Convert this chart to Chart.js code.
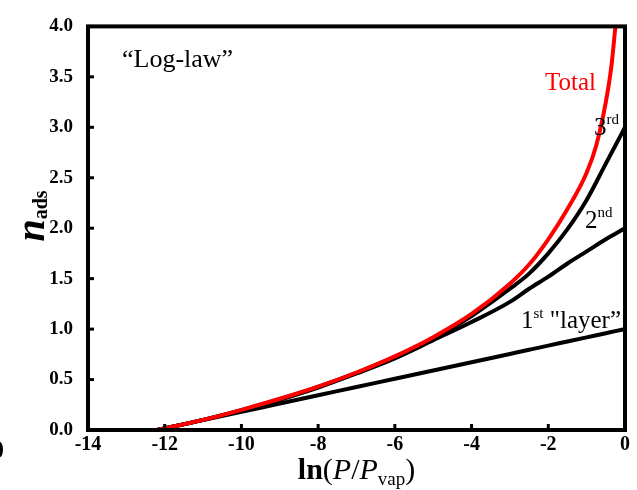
<!DOCTYPE html>
<html>
<head>
<meta charset="utf-8">
<script src="https://cdn.jsdelivr.net/npm/chart.js@4.4.0/dist/chart.umd.min.js"></script>
<style>
  html, body { margin: 0; padding: 0; background: #fff; }
  canvas { display: block; }
</style>
</head>
<body>
<canvas id="chart" width="637" height="490" style="width:637px;height:490px"></canvas>
<script>
// ln(P/Pvap) sample positions shared by the layer curves
const lnP = [-12.2, -11, -10, -9, -8, -7, -6, -5, -4, -3, -2.5, -2, -1.5, -1, -0.5, -0.25, 0];
// cumulative amount adsorbed when only 1, 2 or 3 layers are allowed
const firstLayer = [0, 0.098, 0.180, 0.262, 0.344, 0.426, 0.508, 0.590, 0.672, 0.754, 0.795, 0.836, 0.877, 0.918, 0.959, 0.980, 1.00];
const secondLayer = [0, 0.10, 0.195, 0.30, 0.42, 0.56, 0.71, 0.89, 1.07, 1.27, 1.40, 1.52, 1.65, 1.77, 1.89, 1.945, 2.00];
const thirdLayer = [0, 0.10, 0.197, 0.305, 0.428, 0.566, 0.725, 0.91, 1.13, 1.40, 1.55, 1.75, 1.99, 2.28, 2.64, 2.82, 3.00];
// total uptake, runs off the top of the axis near saturation
const lnPTotal = [-12.2, -11, -10, -9, -8, -7, -6, -5, -4, -3, -2.5, -2, -1.5, -1, -0.75, -0.5, -0.35, -0.25];
const total = [0, 0.10, 0.20, 0.31, 0.43, 0.57, 0.73, 0.92, 1.15, 1.45, 1.64, 1.89, 2.19, 2.55, 2.82, 3.25, 3.62, 4.00];

const SERIF = "'Liberation Serif', 'Times New Roman', serif";

const toPoints = (xs, ys) => xs.map((x, i) => ({ x: x, y: ys[i] }));

// draw a run of differently styled pieces of text, starting at x on baseline y
function drawRuns(ctx, runs, x, y) {
  let cx = x;
  runs.forEach((r) => {
    ctx.font = r.font;
    ctx.fillText(r.t, cx, y + (r.dy || 0));
    cx += ctx.measureText(r.t).width;
  });
}
function runsWidth(ctx, runs) {
  let w = 0;
  runs.forEach((r) => { ctx.font = r.font; w += ctx.measureText(r.t).width; });
  return w;
}

const framePlugin = {
  id: "frame",
  afterDatasetsDraw(chart) {
    const { ctx, chartArea: a, scales } = chart;
    ctx.save();
    ctx.strokeStyle = "#000";
    ctx.fillStyle = "#000";

    // ticks pointing into the plot
    ctx.lineWidth = 3;
    scales.x.ticks.forEach((t) => {
      const px = scales.x.getPixelForValue(t.value);
      ctx.beginPath();
      ctx.moveTo(px, a.bottom);
      ctx.lineTo(px, a.bottom - 6);
      ctx.stroke();
    });
    scales.y.ticks.forEach((t) => {
      const py = scales.y.getPixelForValue(t.value);
      ctx.beginPath();
      ctx.moveTo(a.left, py);
      ctx.lineTo(a.left + 6, py);
      ctx.stroke();
    });

    // closed frame
    ctx.lineWidth = 4;
    ctx.strokeRect(a.left, a.top, a.right - a.left, a.bottom - a.top);

    ctx.textAlign = "left";
    ctx.textBaseline = "alphabetic";

    drawRuns(ctx, [{ t: "\u201cLog-law\u201d", font: "26px " + SERIF }], 122, 67);

    ctx.fillStyle = "#ff0000";
    drawRuns(ctx, [{ t: "Total", font: "25px " + SERIF }], 545, 90);

    ctx.fillStyle = "#000";
    drawRuns(ctx, [
      { t: "3", font: "25px " + SERIF },
      { t: "rd", font: "15px " + SERIF, dy: -11 },
    ], 594, 135);
    drawRuns(ctx, [
      { t: "2", font: "25px " + SERIF },
      { t: "nd", font: "15px " + SERIF, dy: -11 },
    ], 585, 228);
    drawRuns(ctx, [
      { t: "1", font: "25px " + SERIF },
      { t: "st", font: "15px " + SERIF, dy: -10 },
      { t: " \"layer\u201d", font: "25px " + SERIF },
    ], 521, 328);

    // x axis title: ln(P/Pvap)
    const xTitle = [
      { t: "ln", font: "bold 30px " + SERIF },
      { t: "(", font: "30px " + SERIF },
      { t: "P", font: "italic 30px " + SERIF },
      { t: "/", font: "30px " + SERIF },
      { t: "P", font: "italic 30px " + SERIF },
      { t: "vap", font: "19px " + SERIF, dy: 6 },
      { t: ")", font: "30px " + SERIF },
    ];
    const xCenter = (a.left + a.right) / 2;
    drawRuns(ctx, xTitle, xCenter - runsWidth(ctx, xTitle) / 2, 479);

    // y axis title: n_ads
    const yTitle = [
      { t: "n", font: "bold italic 40px " + SERIF },
      { t: "ads", font: "bold 20px " + SERIF, dy: 3 },
    ];
    ctx.translate(44, 216);
    ctx.rotate(-Math.PI / 2);
    drawRuns(ctx, yTitle, -runsWidth(ctx, yTitle) / 2, 0);
    ctx.setTransform(1, 0, 0, 1, 0, 0);

    // stray glyph at the lower left edge
    drawRuns(ctx, [{ t: "0", font: "bold 26px " + SERIF }], -9, 458);

    ctx.restore();
  },
};

const tickFont = { family: SERIF, size: 19, weight: "bold" };

new Chart(document.getElementById("chart"), {
  type: "line",
  data: {
    datasets: [
      { data: toPoints(lnPTotal, total), borderColor: "#ff0000" },
      { data: toPoints(lnP, thirdLayer), borderColor: "#000" },
      { data: toPoints(lnP, secondLayer), borderColor: "#000" },
      { data: toPoints(lnP, firstLayer), borderColor: "#000" },
    ],
  },
  options: {
    responsive: false,
    animation: false,
    devicePixelRatio: 1,
    layout: { padding: { top: 14, right: 12, left: 0, bottom: 0 } },
    elements: {
      point: { radius: 0 },
      line: { borderWidth: 4, cubicInterpolationMode: "monotone", fill: false },
    },
    plugins: { legend: { display: false }, tooltip: { enabled: false } },
    scales: {
      x: {
        type: "linear",
        min: -14,
        max: 0,
        grid: { display: false, drawTicks: false },
        border: { display: false },
        ticks: { stepSize: 2, autoSkip: false, maxRotation: 0, font: { ...tickFont, size: 20 }, color: "#000", padding: 3 },
        afterFit: (s) => { s.height = 60; },
      },
      y: {
        type: "linear",
        min: 0,
        max: 4,
        grid: { display: false, drawTicks: false },
        border: { display: false },
        ticks: { stepSize: 0.5, autoSkip: false, font: tickFont, color: "#000", padding: 15, callback: (v) => v.toFixed(1) },
        afterFit: (s) => { s.width = 88; },
      },
    },
  },
  plugins: [framePlugin],
});
</script>
</body>
</html>
